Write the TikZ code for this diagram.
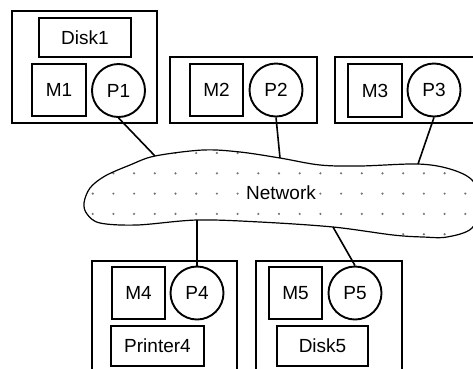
\documentclass[tikz,border=0pt]{standalone}
\usepackage{fontspec}
\setmainfont{Liberation Sans}
\tikzset{
  host/.style={draw,line width=2.4pt,inner sep=0pt},
  part/.style={draw,line width=2.1pt,inner sep=0pt,font=\fontsize{19}{22}\selectfont},
  proc/.style={draw,circle,line width=1.9pt,minimum size=53pt,inner sep=0pt,font=\fontsize{19}{22}\selectfont},
  link/.style={line width=1.6pt}
}
\begin{document}
\begin{tikzpicture}[x=1pt,y=-1pt]
  \useasboundingbox (0,0) rectangle (473,368);
  \clip (0,0) rectangle (473,368);
  % machines
  \node[host,minimum width=145pt,minimum height=112pt] (host1) at (84.5,67) {};
  \node[host,minimum width=147pt,minimum height=66pt] (host2) at (243.5,90) {};
  \node[host,minimum width=155pt,minimum height=66pt] (host3) at (412.5,90) {};
  \node[host,minimum width=145pt,minimum height=119pt] (host4) at (164.5,320.5) {};
  \node[host,minimum width=146pt,minimum height=119pt] (host5) at (329,320.5) {};
  \node[part,minimum width=92pt,minimum height=39pt] (disk1) at (85,37.5) {Disk1};
  \node[part,minimum width=54pt,minimum height=52pt] (m1) at (59,90) {M1};
  \node[proc] (p1) at (118.5,90.5) {P1};
  \node[part,minimum width=53pt,minimum height=52pt] (m2) at (216.5,90) {M2};
  \node[proc] (p2) at (276,90) {P2};
  \node[part,minimum width=54pt,minimum height=53pt] (m3) at (375,90.5) {M3};
  \node[proc] (p3) at (434,90) {P3};
  \node[part,minimum width=53pt,minimum height=52pt] (m4) at (138.5,293) {M4};
  \node[proc] (p4) at (197,293) {P4};
  \node[part,minimum width=93pt,minimum height=40pt] (printer4) at (157.5,346) {Printer4};
  \node[part,minimum width=53pt,minimum height=52pt] (m5) at (295.5,293) {M5};
  \node[proc] (p5) at (355,293) {P5};
  \node[part,minimum width=91pt,minimum height=40pt] (disk5) at (322.5,346) {Disk5};
  % network cloud
  \def\cloudpath{plot[smooth cycle,tension=0.55] coordinates {(84,203) (90,188) (105,176) (130,165)
    (155,156) (203,150) (240,152) (280,158) (320,165) (360,166) (418,164) (450,169)
    (472,180) (481,202) (472,228) (447,237) (423,237) (393,235) (333,227) (260,222)
    (197,220) (137,225) (100,223) (87,214)}}
  \begin{scope}
    \clip \cloudpath;
    \foreach \i in {0,...,18}
      \foreach \j in {0,...,4}
        \fill[black!55] (92.7+20.7*\i,153+20.3*\j) circle (1.2pt);
  \end{scope}
  \draw[line width=1.2pt] \cloudpath;
  \node[fill=white,inner sep=0.5pt,font=\fontsize{19}{22}\selectfont] (net) at (281,193) {Network};
  \coordinate (n1) at (155,156);
  \coordinate (n2) at (280,158);
  \coordinate (n3) at (418,164);
  \coordinate (n4) at (197,220);
  \coordinate (n5) at (333,227);
  \draw[link] (p1.south) -- (n1);
  \draw[link] (p2.south) -- (n2);
  \draw[link] (p3.south) -- (n3);
  \draw[link] (p4.north) -- (n4);
  \draw[link] (p5.north) -- (n5);
\end{tikzpicture}
\end{document}
